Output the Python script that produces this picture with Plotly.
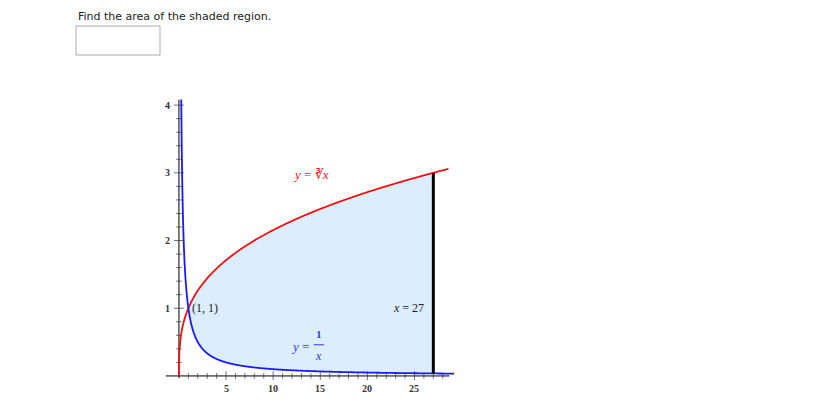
import numpy as np
import plotly.graph_objects as go

x_ticks = [5, 10, 15, 20, 25]
y_ticks = [1, 2, 3, 4]
x_bound = 27
intersection = (1, 1)

O = 8
W, H = 828 - 2 * O, 404 - 2 * O
def px(xp): return (xp - O) / W
def py(yp): return 1 - (yp - O) / H

X0, X1 = -1.48, 29.3
Y0, Y1 = -0.06, 4.12
fig = go.Figure()

xs_fill = np.linspace(1, x_bound, 300)
fig.add_trace(go.Scatter(x=np.concatenate([xs_fill, xs_fill[::-1]]),
                         y=np.concatenate([np.cbrt(xs_fill), 1 / xs_fill[::-1]]),
                         fill='toself', fillcolor='#dcedfd', line=dict(width=0), mode='lines'))
fig.add_trace(go.Scatter(x=[-1.4, 28.7], y=[0, 0], mode='lines', line=dict(color='black', width=1)))
fig.add_trace(go.Scatter(x=[0, 0], y=[-0.03, 4.08], mode='lines', line=dict(color='black', width=1)))
mx = [i for i in range(1, 29)]
fig.add_trace(go.Scatter(x=mx, y=[0] * len(mx), mode='markers',
                         marker=dict(symbol='line-ns-open', size=[7 if i % 5 == 0 else 4 for i in mx], color='#333', line=dict(width=1))))
my = [i * 0.2 for i in range(1, 21)]
fig.add_trace(go.Scatter(x=[0] * len(my), y=my, mode='markers',
                         marker=dict(symbol='line-ew-open', size=[7 if abs(v - round(v)) < 1e-6 else 4 for v in my], color='#333', line=dict(width=1))))
xr = np.concatenate([np.linspace(0, 0.05, 100), np.linspace(0.05, 28.6, 300)])
fig.add_trace(go.Scatter(x=xr, y=np.cbrt(xr), mode='lines', line=dict(color='#ee1111', width=1.8, shape='spline', simplify=False)))
xb = np.linspace(0.245, 29.2, 600)
fig.add_trace(go.Scatter(x=xb, y=1 / xb, mode='lines', line=dict(color='#1a1aff', width=1.8, shape='spline', simplify=False)))
fig.add_trace(go.Scatter(x=[x_bound, x_bound], y=[1 / x_bound, np.cbrt(x_bound)], mode='lines', line=dict(color='black', width=3)))
fig.add_trace(go.Scatter(x=[14.3, 15.4], y=[0.46, 0.46], mode='lines', line=dict(color='#3333ff', width=1)))

serif = 'Liberation Serif'
for t in x_ticks:
    fig.add_annotation(x=t, y=0, yshift=-13, text=f'<b>{t}</b>', showarrow=False, font=dict(family=serif, size=10, color='#333'))
for t in y_ticks:
    fig.add_annotation(x=0, y=t, xshift=-7, text=f'<b>{t}</b>', showarrow=False, xanchor='right', font=dict(family=serif, size=10, color='#333'))
fig.add_annotation(x=intersection[0], y=intersection[1], xshift=2, text='(1, 1)', xanchor='left', showarrow=False, font=dict(family=serif, size=12, color='#222'))
fig.add_annotation(x=24.4, y=1, text='<i>x</i> = 27', showarrow=False, font=dict(family=serif, size=12, color='#222'))
fig.add_annotation(x=14, y=2.98, text='<i>y</i> = ∛<i>x</i>', showarrow=False, font=dict(family=serif, size=13, color='#ee1111'))
fig.add_annotation(x=12.8, y=0.44, text='<i>y</i> =', showarrow=False, font=dict(family=serif, size=13, color='#3333ff'))
fig.add_annotation(x=14.85, y=0.62, text='<b>1</b>', showarrow=False, font=dict(family=serif, size=11, color='#3333ff'))
fig.add_annotation(x=14.85, y=0.3, text='<i>x</i>', showarrow=False, font=dict(family=serif, size=12, color='#3333ff'))
fig.add_annotation(x=0, y=4.2, text='<i>y</i>', showarrow=False, yanchor='bottom', font=dict(family=serif, size=13, color='#333'))
fig.add_annotation(x=29.6, y=0, text='<i>x</i>', showarrow=False, xanchor='left', font=dict(family=serif, size=13, color='#333'))

fig.add_annotation(xref='paper', yref='paper', x=px(76), y=py(16), yanchor='middle', text='Find the area of the shaded region.',
                   showarrow=False, xanchor='left', font=dict(family='DejaVu Sans', size=11, color='#222'))
fig.add_shape(type='rect', xref='paper', yref='paper', x0=px(76), x1=px(160), y0=py(26), y1=py(55), line=dict(color='#aaa', width=1))

fig.update_layout(width=W, height=H, margin=dict(l=0, r=0, t=0, b=0), showlegend=False,
                  plot_bgcolor='white', paper_bgcolor='white',
                  xaxis=dict(domain=[px(165), px(455)], range=[X0, X1], visible=False),
                  yaxis=dict(domain=[py(380), py(97)], range=[Y0, Y1], visible=False))
fig.write_html('out.html')
